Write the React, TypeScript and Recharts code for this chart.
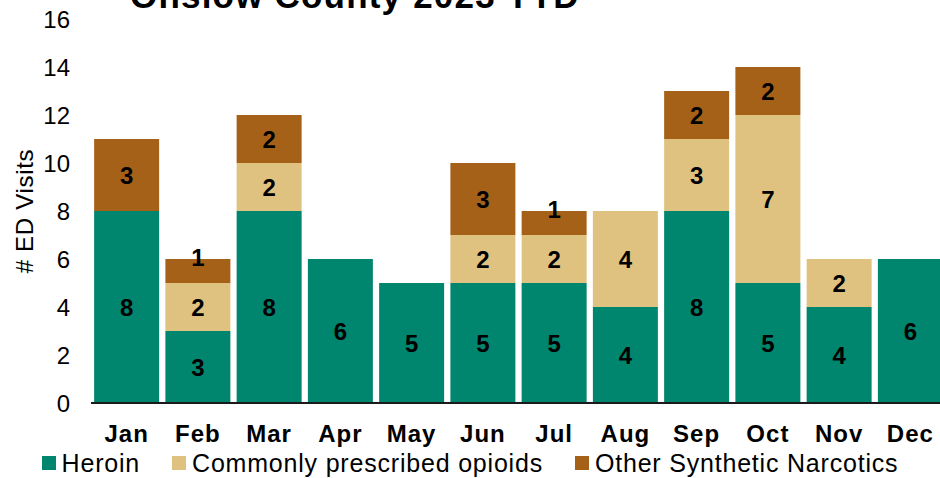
import React from "react";
import { Bar, BarChart, LabelList, Legend, XAxis, YAxis, Label } from "recharts";

const HEROIN = "#00856f";
const PRESCRIBED = "#dfc280";
const SYNTHETIC = "#a66119";
const INK = "#000000";
const FONT = "Arial, 'Liberation Sans', sans-serif";

const months = ["Jan", "Feb", "Mar", "Apr", "May", "Jun", "Jul", "Aug", "Sep", "Oct", "Nov", "Dec"];
const heroin = [8, 3, 8, 6, 5, 5, 5, 4, 8, 5, 4, 6];
const prescribed = [0, 2, 2, 0, 0, 2, 2, 4, 3, 7, 2, 0];
const synthetic = [3, 1, 2, 0, 0, 3, 1, 0, 2, 2, 0, 0];
const yTicks = [0, 2, 4, 6, 8, 10, 12, 14, 16];

const data = months.map((m, i) => ({
  month: m,
  heroin: heroin[i],
  prescribed: prescribed[i],
  synthetic: synthetic[i],
}));

const series = [
  { key: "heroin", name: "Heroin", color: HEROIN },
  { key: "prescribed", name: "Commonly prescribed opioids", color: PRESCRIBED },
  { key: "synthetic", name: "Other Synthetic Narcotics", color: SYNTHETIC },
];

// centred value label; thin segments get the label pushed up to their top edge
function SegmentLabel(props: any) {
  const { x, y, width, height, value } = props;
  if (!value) return null;
  const cy = height < 30 ? y - 2 : y + height / 2;
  return (
    <text
      x={x + width / 2}
      y={cy}
      dy="0.36em"
      textAnchor="middle"
      fill={INK}
      fontFamily={FONT}
      fontSize={24}
      fontWeight="bold"
    >
      {value}
    </text>
  );
}

function LegendRow() {
  return (
    <div
      style={{
        display: "flex",
        justifyContent: "center",
        alignItems: "center",
        height: 30,
        fontFamily: FONT,
        fontSize: 25,
        letterSpacing: 0.8,
        color: INK,
      }}
    >
      {series.map((s, i) => (
        <div
          key={s.key}
          style={{ display: "flex", alignItems: "center", marginLeft: i === 0 ? 0 : 32 }}
        >
          <span style={{ width: 14, height: 14, background: s.color, marginRight: 6 }} />
          <span>{s.name}</span>
        </div>
      ))}
    </div>
  );
}

export default function App() {
  return (
    <div
      style={{
        position: "absolute",
        left: 0,
        top: 0,
        width: 940,
        height: 478,
        overflow: "hidden",
        background: "#fff",
      }}
    >
      <svg
        width={940}
        height={20}
        style={{ position: "absolute", left: 0, top: 0, zIndex: 2 }}
      >
        <text
          x={130}
          y={8}
          fontFamily={FONT}
          fontSize={35}
          letterSpacing={1.2}
          fontWeight="bold"
          fill={INK}
        >
          Onslow County 2023 YTD
        </text>
      </svg>
      <BarChart
        width={950}
        height={478}
        data={data}
        margin={{ top: 19, right: 4, left: 0, bottom: 0 }}
        barCategoryGap="4.4%"
      >
        <XAxis
          dataKey="month"
          height={45}
          tickLine={false}
          tickSize={0}
          tickMargin={22}
          axisLine={{ stroke: "#1a1a1a", strokeWidth: 2 }}
          tick={{ fill: INK, fontSize: 24, fontWeight: "bold", fontFamily: FONT, letterSpacing: 1 }}
          interval={0}
        />
        <YAxis
          width={91}
          domain={[0, 16]}
          ticks={yTicks}
          axisLine={false}
          tickLine={false}
          tickSize={0}
          tickMargin={21}
          tick={{ fill: INK, fontSize: 24, fontFamily: FONT }}
        >
          <Label
            content={({ viewBox }: any) => {
              const cx = 24;
              const cy = viewBox.y + viewBox.height / 2;
              return (
                <text
                  x={cx}
                  y={cy}
                  transform={`rotate(-90 ${cx} ${cy})`}
                  textAnchor="middle"
                  dy="0.36em"
                  fontFamily={FONT}
                  fontSize={24}
                  letterSpacing={0.7}
                  fill={INK}
                >
                  # ED Visits
                </text>
              );
            }}
          />
        </YAxis>
        <Legend
          verticalAlign="bottom"
          wrapperStyle={{ left: 0, width: 940, height: 30 }}
          content={() => <LegendRow />}
        />
        {series.map((s) => (
          <Bar
            key={s.key}
            dataKey={s.key}
            name={s.name}
            stackId="a"
            fill={s.color}
            isAnimationActive={false}
          >
            <LabelList dataKey={s.key} content={SegmentLabel} />
          </Bar>
        ))}
      </BarChart>
    </div>
  );
}
